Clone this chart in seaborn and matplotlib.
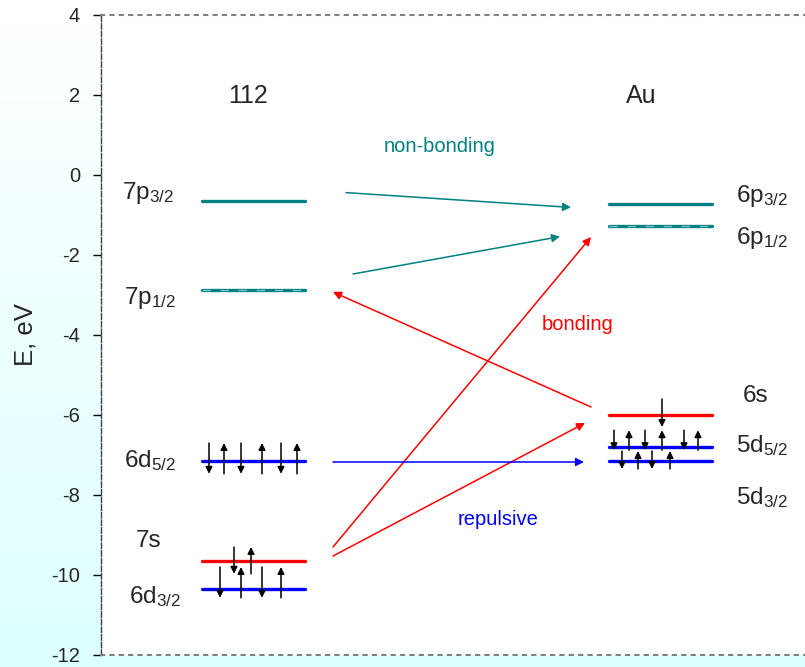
import numpy as np
import pandas as pd
import matplotlib
matplotlib.use("Agg")
import matplotlib.pyplot as plt
from matplotlib.colors import LinearSegmentedColormap
import seaborn as sns

# ---- data -------------------------------------------------------------
# Orbital energies (eV) for element 112 and for gold
levels_112 = ["7p3/2", "7p1/2", "6d5/2", "7s", "6d3/2"]
energy_112 = [-0.65, -2.87, -7.15, -9.65, -10.35]
colour_112 = ["teal", "teal", "blue", "red", "blue"]
labels_112 = [r"$\mathregular{7p_{3/2}}$", r"$\mathregular{7p_{1/2}}$",
              r"$\mathregular{6d_{5/2}}$", "7s", r"$\mathregular{6d_{3/2}}$"]

levels_au = ["6p3/2", "6p1/2", "6s", "5d5/2", "5d3/2"]
energy_au = [-0.72, -1.28, -6.00, -6.80, -7.15]
colour_au = ["teal", "teal", "red", "blue", "blue"]
labels_au = [r"$\mathregular{6p_{3/2}}$", r"$\mathregular{6p_{1/2}}$", "6s",
             r"$\mathregular{5d_{5/2}}$", r"$\mathregular{5d_{3/2}}$"]

# electron spins drawn on each occupied level: (x positions, directions)
spins = {
    "6d5/2": ([1.08, 1.23, 1.40, 1.61, 1.80, 1.96], "dududu"),
    "7s":    ([1.33, 1.50], "du"),
    "6d3/2": ([1.19, 1.40, 1.61, 1.80], "dudu"),
    "6s":    ([5.61], "d"),
    "5d5/2": ([5.13, 5.28, 5.44, 5.61, 5.83, 5.97], "dududu"),
    "5d3/2": ([5.21, 5.37, 5.51, 5.69], "dudu"),
}
# how far each spin arrow reaches above / below its level (eV)
spin_reach = {
    "6d5/2": (0.45, 0.32), "7s": (0.35, 0.32), "6d3/2": (0.55, 0.22),
    "6s": (0.40, 0.30), "5d5/2": (0.42, 0.08), "5d3/2": (0.25, 0.20),
}

# interaction arrows: start / end energies (eV) and kind
arrow_kind = ["non-bonding", "non-bonding", "bonding", "bonding", "bonding", "repulsive"]
arrow_E0 = [-0.44, -2.475, -5.80, -9.30, -9.525, -7.175]
arrow_E1 = [-0.81, -1.54, -2.925, -1.55, -6.20, -7.175]
arrow_x0 = [2.45, 2.52, 4.90, 2.32, 2.32, 2.32]
arrow_x1 = [4.70, 4.59, 2.32, 4.90, 4.84, 4.83]

yticks = [-12, -10, -8, -6, -4, -2, 0, 2, 4]

# ---- style ------------------------------------------------------------
sns.set_theme(style="white")
plt.rcParams["font.family"] = ["Liberation Sans", "DejaVu Sans"]
plt.rcParams["axes.unicode_minus"] = False
plt.rcParams["mathtext.default"] = "regular"

TEAL, RED, BLUE = "#008080", "#FF0000", "#0000FF"
cmap_col = {"teal": TEAL, "red": RED, "blue": BLUE}
kind_col = {"non-bonding": TEAL, "bonding": RED, "repulsive": BLUE}

fig = plt.figure(figsize=(8.05, 6.67), dpi=100)

# soft white-to-cyan backdrop
bg = fig.add_axes([0, 0, 1, 1], zorder=-10)
grad = np.linspace(0, 1, 256)[:, None]
bg.imshow(grad, aspect="auto", extent=[0, 1, 0, 1],
          cmap=LinearSegmentedColormap.from_list("bg", ["#FFFFFF", "#DDFFFF"]))
bg.axis("off")

ax = fig.add_axes([101 / 805, 12 / 667, 704 / 805, 640 / 667])
ax.set_facecolor("white")
ax.set_xlim(0, 7.04)
ax.set_ylim(-12, 4)

# ---- energy levels ----------------------------------------------------
col_x = {"112": (1.01, 2.04), "Au": (5.08, 6.11)}
rows = []
for atom, names, ens in (("112", levels_112, energy_112), ("Au", levels_au, energy_au)):
    for n, e in zip(names, ens):
        for xx in col_x[atom]:
            rows.append({"level": n, "x": xx, "E": e})
df = pd.DataFrame(rows)
palette = {n: cmap_col[c] for n, c in zip(levels_112 + levels_au, colour_112 + colour_au)}
sns.lineplot(data=df, x="x", y="E", hue="level", palette=palette, estimator=None,
             sort=False, legend=False, lw=2.4, ax=ax, zorder=3)

# lighter dashes on the p1/2 levels
for atom, names, ens in (("112", levels_112, energy_112), ("Au", levels_au, energy_au)):
    for n, e in zip(names, ens):
        if n.endswith("p1/2"):
            ax.plot(col_x[atom], [e, e], color="#7cc0c0", lw=1.0,
                    linestyle=(0, (6, 7)), zorder=4, solid_capstyle="butt")

# ---- spins ------------------------------------------------------------
all_E = dict(zip(levels_112 + levels_au, energy_112 + energy_au))
for lvl, (xs, dirs) in spins.items():
    e = all_E[lvl]
    up, dn = spin_reach[lvl]
    for xx, d in zip(xs, dirs):
        if d == "u":
            start, end = e - dn, e + up
        else:
            start, end = e + up, e - dn
        ax.annotate("", xy=(xx, end), xytext=(xx, start), zorder=5,
                    arrowprops=dict(arrowstyle="-|>", color="black", lw=1.1,
                                    mutation_scale=10, shrinkA=0, shrinkB=0))

# ---- interaction arrows ----------------------------------------------
for k, x0, e0, x1, e1 in zip(arrow_kind, arrow_x0, arrow_E0, arrow_x1, arrow_E1):
    ax.annotate("", xy=(x1, e1), xytext=(x0, e0), zorder=2,
                arrowprops=dict(arrowstyle="-|>", color=kind_col[k], lw=1.1,
                                mutation_scale=12, shrinkA=0, shrinkB=0))

# ---- text -------------------------------------------------------------
ax.text(1.47, 1.975, "112", fontsize=18, ha="center", va="center")
ax.text(5.40, 1.975, "Au", fontsize=18, ha="center", va="center")

lab112_pos = [(0.47, -0.45), (0.49, -3.07), (0.49, -7.15), (0.48, -9.15), (0.54, -10.55)]
for t, (xx, yy) in zip(labels_112, lab112_pos):
    ax.text(xx, yy, t, fontsize=17.5, ha="center", va="center")
labau_pos = [(6.61, -0.52), (6.61, -1.57), (6.55, -5.52), (6.61, -6.77), (6.61, -8.07)]
for t, (xx, yy) in zip(labels_au, labau_pos):
    ax.text(xx, yy, t, fontsize=17.5, ha="center", va="center")

ax.text(3.39, 0.70, "non-bonding", color=TEAL, fontsize=14.5, ha="center", va="center")
ax.text(4.77, -3.75, "bonding", color=RED, fontsize=14.5, ha="center", va="center")
ax.text(3.97, -8.62, "repulsive", color=BLUE, fontsize=14.5, ha="center", va="center")

# ---- axes -------------------------------------------------------------
ax.set_yticks(yticks)
ax.set_yticklabels([str(v) for v in yticks])
ax.set_xticks([])
ax.tick_params(axis="y", left=True, length=6, width=1, color="black",
               labelsize=14.5, pad=9, direction="out")
ax.set_xlabel("")
ax.set_ylabel("E, eV", fontsize=18.5)
ax.yaxis.set_label_coords(-0.09, 0.5)

for side in ("top", "bottom"):
    ax.spines[side].set_visible(True)
    ax.spines[side].set_color("#808080")
    ax.spines[side].set_linewidth(1.5)
    ax.spines[side].set_linestyle((0, (1.5, 3)))
ax.spines["left"].set_color("#404040")
ax.spines["left"].set_linewidth(1.0)
ax.spines["left"].set_linestyle((0, (4, 1.5)))
ax.spines["right"].set_visible(False)

fig.savefig("out.png", dpi=100)
